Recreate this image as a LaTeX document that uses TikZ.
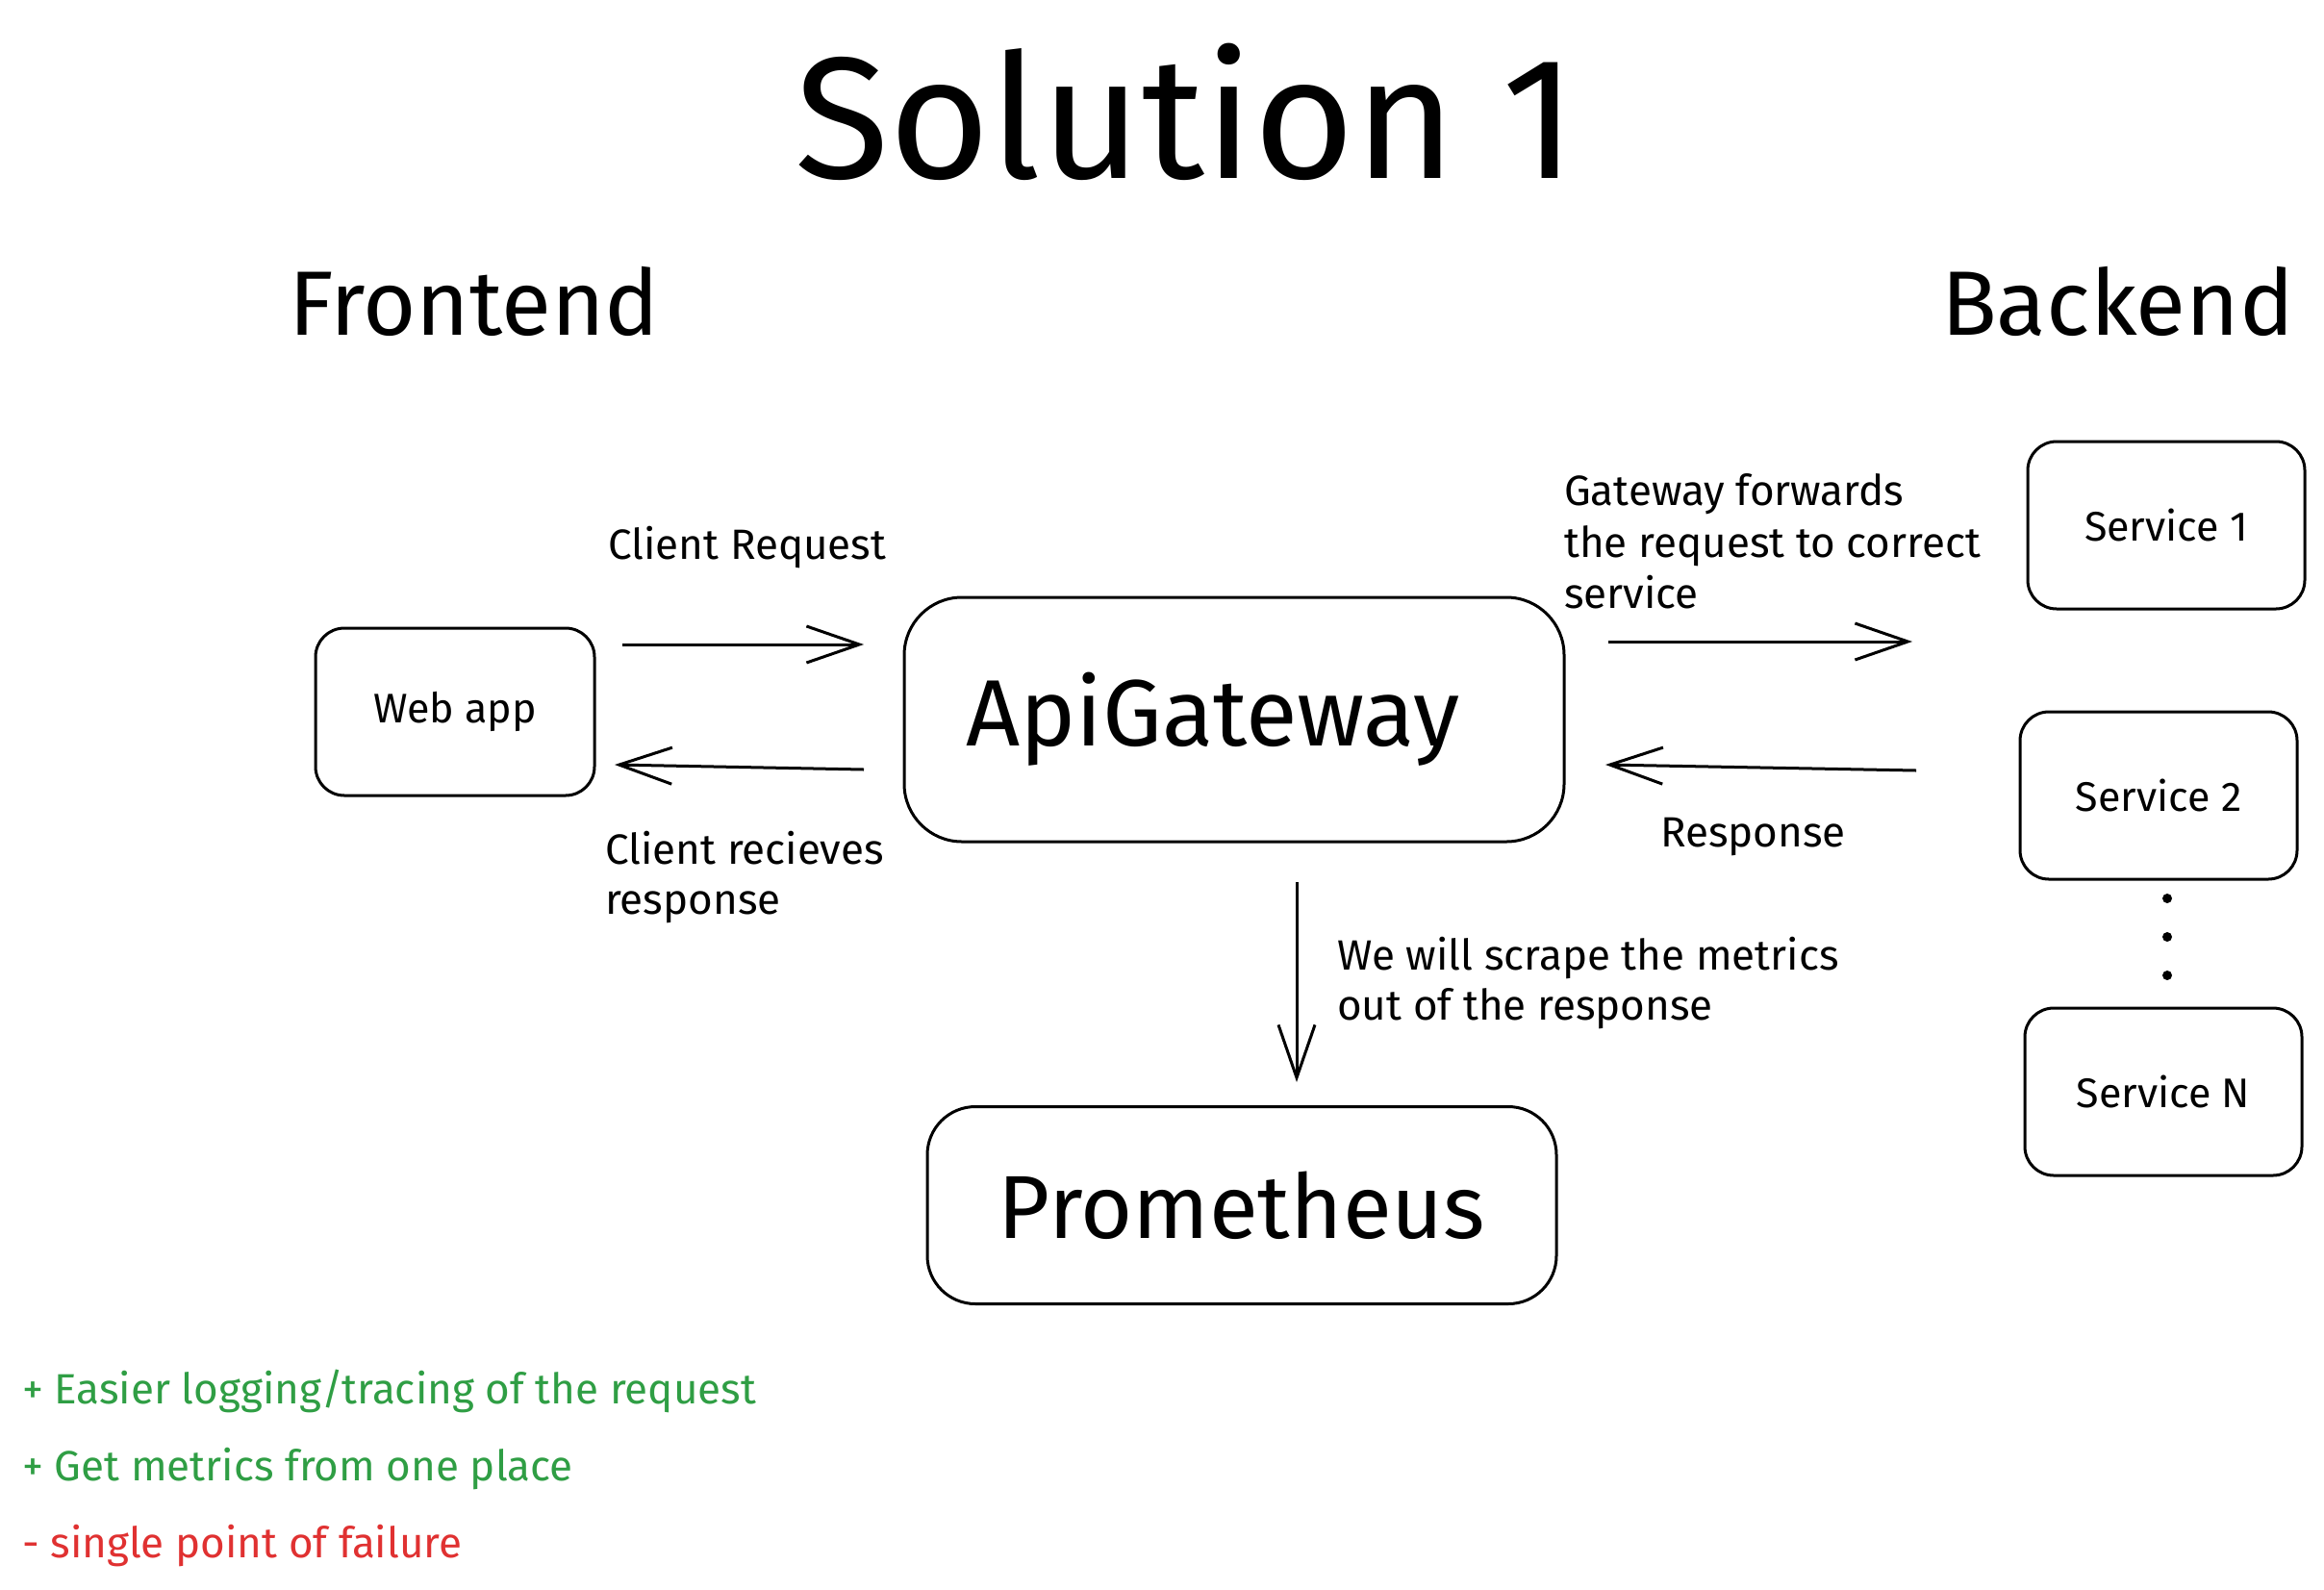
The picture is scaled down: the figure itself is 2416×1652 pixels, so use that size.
\documentclass[tikz,border=0pt]{standalone}
\usepackage{fontspec}
\setmainfont{Fira Sans}
\usetikzlibrary{arrows.meta}
\definecolor{exgreen}{HTML}{2F9E44}
\definecolor{exred}{HTML}{E03131}
\tikzset{
  box/.style={draw, line width=3pt, align=center, inner sep=0pt, font=\fontsize{43}{54}\selectfont},
  lbl/.style={anchor=base west, inner sep=0pt, font=\fontsize{44}{54}\selectfont},
  head/.style={anchor=base west, inner sep=0pt, font=\fontsize{95}{110}\selectfont},
  arr/.style={line width=3pt, -{Straight Barb[length=55pt,width=38pt,line width=3pt]}},
  dot/.style={circle, fill=black, inner sep=0pt, minimum size=10pt},
}
\begin{document}
\begin{tikzpicture}[x=1pt,y=-1pt]
\useasboundingbox (0,0) rectangle (2416,1652);
\fill[white] (0,0) rectangle (2416,1652);

% titles
\node[anchor=base, inner sep=0pt, font=\fontsize{180}{200}\selectfont] (title) at (1233,185) {Solution 1};
\node[head] (front) at (300,348) {Frontend};
\node[head] (back) at (2018,348) {Backend};

% boxes
\node[box, rounded corners=30pt, minimum width=290pt, minimum height=174pt] (web) at (473,740) {Web app};
\node[box, rounded corners=60pt, minimum width=686pt, minimum height=254pt, font=\fontsize{98}{110}\selectfont] (gw) at (1283,748) {ApiGateway\hspace*{44pt}};
\node[box, rounded corners=50pt, minimum width=654pt, minimum height=205pt, font=\fontsize{93}{110}\selectfont] (prom) at (1291,1253) {Prometheus};
\node[box, rounded corners=30pt, minimum width=288pt, minimum height=174pt] (s1) at (2252,546) {Service 1};
\node[box, rounded corners=30pt, minimum width=288pt, minimum height=174pt] (s2) at (2244,827) {Service 2};
\node[box, rounded corners=30pt, minimum width=288pt, minimum height=174pt] (sn) at (2249,1135) {Service N};

% dots
\node[dot] (d1) at (2253,934) {};
\node[dot] (d2) at (2253,974) {};
\node[dot] (d3) at (2253,1014) {};

% arrow end points
\coordinate (reqS) at (647,670);
\coordinate (reqE) at (898,670);
\coordinate (rcvS) at (898,800);
\coordinate (rcvE) at (639,795);
\coordinate (fwdS) at (1672,667);
\coordinate (fwdE) at (1988,667);
\coordinate (rspS) at (1992,801);
\coordinate (rspE) at (1669,795);
\coordinate (scrS) at (1348,917);
\coordinate (scrE) at (1348,1125);

\draw[arr] (reqS) -- (reqE);
\draw[arr] (rcvS) -- (rcvE);
\draw[arr] (fwdS) -- (fwdE);
\draw[arr] (rspS) -- (rspE);
\draw[arr] (scrS) -- (scrE);

% labels
\node[lbl] (l1) at (632,581) {Client Request};
\node[lbl] (l2a) at (629,898) {Client recieves};
\node[lbl] (l2b) at (629,950) {response};
\node[lbl] (l3a) at (1626,525) {Gateway forwards};
\node[lbl] (l3b) at (1626,579) {the request to correct};
\node[lbl] (l3c) at (1626,632) {service};
\node[lbl] (l4) at (1726,880) {Response};
\node[lbl] (l5a) at (1390,1008) {We will scrape the metrics};
\node[lbl] (l5b) at (1390,1060) {out of the response};

% pros / cons
\node[lbl, text=exgreen] (p1) at (23,1459) {+ Easier logging/tracing of the request};
\node[lbl, text=exgreen] (p2) at (23,1539) {+ Get metrics from one place};
\node[lbl, text=exred] (c1) at (23,1619) {- single point of failure};
\end{tikzpicture}
\end{document}
